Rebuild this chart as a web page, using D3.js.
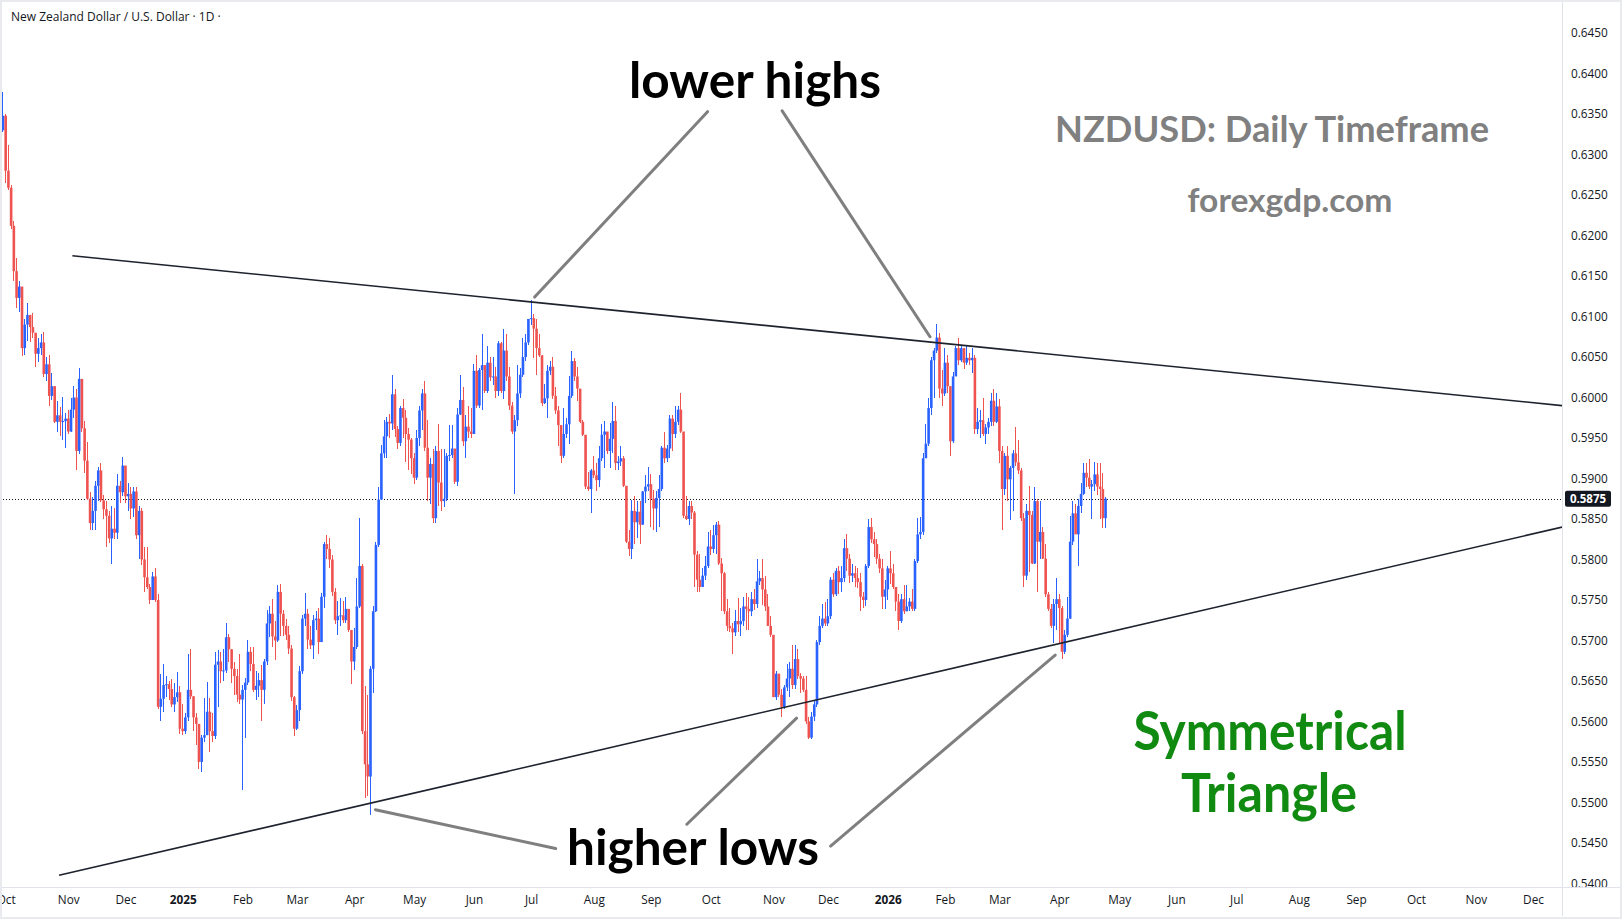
<!DOCTYPE html>
<html>
<head>
<meta charset="utf-8">
<script src="https://cdn.jsdelivr.net/npm/d3@7"></script>
<style>
  html, body { margin: 0; padding: 0; background: #fff; }
  svg { display: block; }
</style>
</head>
<body>
<svg id="chart" width="1622" height="919"></svg>
<script>
// NZDUSD daily candles, Sep 30 2024 -> Apr 24 2026.
// Open of each bar is the previous close (FX feed), first open given below.
const firstOpen = 0.6330;

const closes = [
  // Sep 30 + Oct 2024
  .6348,.6280,.6259,.6212,.6156,.6123,.6137,.6061,.6090,.6102,.6087,.6080,.6054,.6061,.6068,.6029,.6041,.6002,.6014,.5970,.5978,.5970,.5971,.5974,
  // Nov 2024
  .5958,.5985,.6000,.5934,.6023,.5962,.5922,.5875,.5845,.5860,.5891,.5910,.5873,.5862,.5854,.5826,.5838,.5833,.5891,.5883,.5916,
  // Dec 2024
  .5878,.5881,.5863,.5884,.5830,.5860,.5800,.5778,.5766,.5750,.5779,.5750,.5618,.5628,.5645,.5646,.5640,.5621,.5630,.5636,.5591,
  // Jan 2025
  .5588,.5605,.5639,.5631,.5605,.5597,.5550,.5580,.5583,.5612,.5588,.5582,.5670,.5674,.5662,.5663,.5704,.5689,.5665,.5656,.5633,.5627,
  // Feb 2025
  .5639,.5648,.5686,.5671,.5639,.5644,.5651,.5639,.5674,.5721,.5733,.5705,.5700,.5760,.5733,.5718,.5707,.5690,.5630,.5591,
  // Mar 2025
  .5614,.5662,.5727,.5733,.5701,.5694,.5725,.5727,.5698,.5754,.5819,.5813,.5800,.5760,.5725,.5730,.5731,.5725,.5739,.5713,.5674,
  // Apr 2025
  .5692,.5742,.5792,.5588,.5547,.5532,.5665,.5736,.5818,.5874,.5931,.5952,.5970,.5968,.6004,.5961,.5944,.5987,.5975,.5955,.5948,.5925,
  // May 2025
  .5901,.5950,.5984,.6005,.5938,.5901,.5918,.5851,.5934,.5895,.5872,.5875,.5928,.5929,.5937,.5896,.5979,.5997,.5946,.5964,.5958,.5955,
  // Jun 2025
  .6033,.5990,.6034,.6040,.6008,.6043,.6025,.6026,.6008,.6067,.6008,.6058,.6026,.5990,.5958,.5972,.6005,.6028,.6050,.6068,.6097,
  // Jul 2025
  .6098,.6085,.6061,.6052,.5993,.5999,.6033,.6038,.6002,.5984,.5966,.5928,.5955,.5967,.6002,.6045,.6026,.6011,.5970,.5954,.5890,.5887,.5910,
  // Aug 2025
  .5904,.5898,.5925,.5954,.5958,.5934,.5949,.5971,.5919,.5921,.5925,.5891,.5822,.5813,.5860,.5846,.5859,.5843,.5884,.5890,.5893,
  // Sep 2025
  .5875,.5863,.5876,.5887,.5938,.5925,.5937,.5974,.5955,.5970,.5985,.5958,.5854,.5850,.5866,.5858,.5806,.5775,.5766,.5780,.5792,.5816,
  // Oct 2025
  .5813,.5830,.5843,.5795,.5783,.5736,.5718,.5715,.5710,.5724,.5720,.5724,.5742,.5739,.5736,.5751,.5745,.5773,.5777,.5763,.5742,.5718,.5707,
  // Nov 2025
  .5630,.5659,.5633,.5618,.5642,.5653,.5665,.5645,.5677,.5656,.5653,.5639,.5600,.5580,.5606,.5621,.5698,.5718,.5727,.5721,
  // Dec 2025
  .5730,.5775,.5757,.5786,.5772,.5777,.5814,.5801,.5780,.5783,.5777,.5772,.5754,.5750,.5792,.5840,.5825,.5819,.5801,.5789,.5754,.5763,
  // Jan 2026
  .5789,.5783,.5766,.5748,.5724,.5751,.5736,.5742,.5748,.5739,.5798,.5831,.5834,.5925,.5943,.5987,.6046,.6058,.6074,.6011,.6005,
  // Feb 2026
  .6043,.6014,.5946,.6026,.6061,.6046,.6061,.6043,.6049,.6046,.6049,.5961,.5970,.5972,.5955,.5963,.5970,.5996,.5970,.5989,
  // Mar 2026
  .5934,.5887,.5928,.5899,.5913,.5931,.5920,.5910,.5851,.5780,.5860,.5855,.5795,.5872,.5822,.5834,.5801,.5757,.5739,.5718,.5745,.5751,
  // Apr 2026
  .5740,.5686,.5707,.5727,.5822,.5857,.5831,.5866,.5881,.5907,.5901,.5890,.5893,.5905,.5890,.5887,.5851,.5875
];

const highs = [
  .6377,.6350,.6312,.6262,.6218,.6172,.6144,.6137,.6097,.6117,.6102,.6104,.6080,.6073,.6079,.6081,.6050,.6052,.6030,.6014,.5996,.5988,.6001,.5981,
  .5985,.6000,.6014,.6010,.6036,.6022,.5971,.5945,.5883,.5877,.5897,.5914,.5919,.5880,.5872,.5860,.5866,.5864,.5906,.5897,.5927,
  .5907,.5895,.5889,.5890,.5890,.5866,.5863,.5816,.5816,.5770,.5784,.5790,.5757,.5659,.5671,.5656,.5650,.5653,.5647,.5661,.5644,
  .5622,.5611,.5683,.5690,.5631,.5610,.5597,.5583,.5629,.5649,.5629,.5611,.5686,.5688,.5686,.5690,.5721,.5708,.5690,.5674,.5665,.5683,
  .5645,.5654,.5700,.5692,.5692,.5662,.5660,.5670,.5677,.5737,.5742,.5751,.5724,.5768,.5770,.5738,.5726,.5718,.5695,.5632,
  .5620,.5668,.5731,.5758,.5739,.5718,.5731,.5736,.5740,.5758,.5822,.5830,.5826,.5805,.5765,.5749,.5752,.5749,.5754,.5739,.5713,
  .5716,.5777,.5851,.5795,.5644,.5633,.5668,.5742,.5822,.5890,.5941,.5972,.5976,.5980,.6028,.6010,.5965,.5990,.5998,.5985,.5962,.5950,
  .5931,.5960,.5990,.6011,.6021,.5972,.5925,.5936,.5940,.5967,.5937,.5937,.5931,.5966,.5966,.5937,.5987,.6028,.6013,.5979,.5990,.5987,
  .6042,.6052,.6037,.6079,.6040,.6064,.6050,.6050,.6038,.6070,.6068,.6084,.6079,.6038,.5995,.5978,.6040,.6037,.6073,.6079,.6097,
  .6120,.6103,.6097,.6079,.6052,.6017,.6040,.6045,.6050,.6013,.5990,.5954,.5987,.5975,.6026,.6058,.6049,.6038,.6008,.5972,.5954,.5908,.5912,
  .5928,.5919,.5940,.5967,.5971,.5956,.5968,.5995,.5990,.5928,.5940,.5928,.5891,.5836,.5873,.5878,.5872,.5872,.5884,.5904,.5914,
  .5905,.5886,.5884,.5904,.5940,.5958,.5941,.5978,.5978,.5990,.5990,.6006,.5958,.5878,.5872,.5872,.5860,.5810,.5807,.5790,.5804,.5834,
  .5837,.5843,.5846,.5848,.5802,.5784,.5751,.5740,.5722,.5737,.5753,.5740,.5754,.5759,.5754,.5760,.5763,.5801,.5786,.5801,.5780,.5757,.5730,
  .5707,.5662,.5659,.5640,.5645,.5671,.5674,.5695,.5695,.5690,.5660,.5656,.5656,.5606,.5612,.5627,.5700,.5730,.5745,.5748,
  .5751,.5778,.5783,.5790,.5792,.5792,.5825,.5831,.5807,.5795,.5792,.5790,.5783,.5760,.5795,.5850,.5851,.5834,.5825,.5807,.5801,.5775,
  .5792,.5810,.5795,.5766,.5757,.5757,.5769,.5769,.5753,.5763,.5800,.5851,.5852,.5931,.5967,.5999,.6050,.6061,.6091,.6080,.6034,
  .6061,.6052,.6014,.6032,.6064,.6073,.6064,.6052,.6064,.6055,.6061,.6052,.5987,.5985,.6000,.5967,.5975,.6005,.6011,.6005,
  .5998,.5940,.5931,.5940,.5916,.5935,.5963,.5948,.5913,.5857,.5869,.5891,.5860,.5890,.5875,.5872,.5840,.5819,.5760,.5745,.5751,.5777,
  .5757,.5742,.5713,.5754,.5854,.5872,.5869,.5875,.5895,.5919,.5919,.5924,.5898,.5920,.5919,.5919,.5907,.5877
];

const lows = [
  .6328,.6265,.6256,.6208,.6144,.6111,.6106,.6051,.6052,.6070,.6068,.6073,.6038,.6044,.6053,.6025,.6020,.5990,.5997,.5968,.5957,.5952,.5947,.5938,
  .5955,.5958,.5975,.5911,.5930,.5958,.5907,.5874,.5836,.5836,.5836,.5872,.5871,.5850,.5816,.5820,.5795,.5825,.5825,.5870,.5879,
  .5870,.5860,.5850,.5852,.5825,.5800,.5793,.5760,.5763,.5745,.5751,.5747,.5615,.5600,.5612,.5630,.5627,.5618,.5612,.5624,.5585,
  .5583,.5585,.5600,.5628,.5588,.5571,.5541,.5538,.5574,.5600,.5562,.5574,.5578,.5618,.5647,.5650,.5660,.5674,.5647,.5633,.5624,.5622,
  .5515,.5580,.5645,.5662,.5636,.5627,.5630,.5600,.5621,.5670,.5704,.5692,.5676,.5698,.5706,.5705,.5700,.5683,.5625,.5582,
  .5590,.5600,.5659,.5718,.5689,.5690,.5677,.5713,.5683,.5698,.5740,.5801,.5790,.5755,.5720,.5707,.5718,.5722,.5721,.5710,.5646,
  .5663,.5690,.5740,.5585,.5506,.5508,.5484,.5635,.5735,.5815,.5884,.5925,.5925,.5950,.5960,.5951,.5936,.5940,.5950,.5920,.5910,.5905,
  .5893,.5898,.5940,.5960,.5934,.5872,.5869,.5845,.5845,.5866,.5860,.5865,.5872,.5922,.5925,.5893,.5891,.5979,.5940,.5925,.5950,.5950,
  .5955,.5987,.5987,.5984,.6005,.6005,.6020,.6015,.6000,.6002,.6005,.5998,.6020,.5985,.5955,.5881,.5965,.6000,.6025,.6045,.6065,
  .6090,.6049,.6028,.6050,.5990,.5992,.5975,.6028,.5998,.5980,.5940,.5919,.5925,.5950,.5943,.6000,.6020,.5996,.5968,.5952,.5887,.5884,.5857,
  .5900,.5884,.5890,.5922,.5913,.5930,.5913,.5931,.5911,.5911,.5915,.5889,.5820,.5804,.5801,.5819,.5826,.5819,.5843,.5870,.5884,
  .5840,.5836,.5834,.5840,.5884,.5919,.5920,.5925,.5934,.5950,.5966,.5956,.5851,.5849,.5842,.5850,.5766,.5760,.5760,.5766,.5775,.5790,
  .5805,.5808,.5807,.5793,.5736,.5733,.5712,.5711,.5683,.5705,.5710,.5706,.5718,.5713,.5713,.5730,.5738,.5740,.5768,.5744,.5736,.5718,.5704,
  .5630,.5627,.5630,.5606,.5615,.5638,.5630,.5640,.5640,.5653,.5635,.5636,.5597,.5578,.5578,.5600,.5618,.5695,.5715,.5718,
  .5718,.5727,.5754,.5755,.5757,.5760,.5772,.5786,.5771,.5772,.5766,.5765,.5736,.5740,.5742,.5790,.5820,.5803,.5795,.5783,.5739,.5739,
  .5750,.5770,.5763,.5736,.5713,.5721,.5733,.5736,.5736,.5736,.5736,.5796,.5825,.5830,.5925,.5940,.5978,.6000,.6055,.6000,.5990,
  .6002,.6005,.5928,.5944,.6026,.6040,.6044,.6035,.6040,.6040,.6030,.5955,.5955,.5950,.5952,.5943,.5955,.5965,.5965,.5968,
  .5919,.5837,.5880,.5872,.5849,.5860,.5915,.5905,.5848,.5766,.5775,.5784,.5795,.5795,.5760,.5801,.5801,.5754,.5736,.5716,.5697,.5713,
  .5697,.5677,.5683,.5704,.5727,.5818,.5831,.5792,.5857,.5880,.5890,.5887,.5850,.5885,.5880,.5850,.5839,.5839
];

const lastPrice = 0.5875;
const priceTicks = [0.6450,0.6400,0.6350,0.6300,0.6250,0.6200,0.6150,0.6100,0.6050,0.6000,0.5950,
                    0.5900,0.5850,0.5800,0.5750,0.5700,0.5650,0.5600,0.5550,0.5500,0.5450,0.5400];
// one label per calendar month starting Oct 2024
const timeTickLabels = ["Oct","Nov","Dec","2025","Feb","Mar","Apr","May","Jun","Jul","Aug","Sep","Oct","Nov",
                        "Dec","2026","Feb","Mar","Apr","May","Jun","Jul","Aug","Sep","Oct","Nov","Dec"];

// trend lines and pointer lines, endpoints as (bar index, price)
const upperTrend = [[25.5, 0.6175], [572.7, 0.5990]];
const lowerTrend = [[20.6, 0.5410], [572.7, 0.5840]];
const pointers = [
  [[195.3, 0.6124], [258.8, 0.6353]],
  [[286.2, 0.6354], [340.5, 0.6075]],
  [[136.8, 0.5491], [203.0, 0.5443]],
  [[251.2, 0.5473], [291.5, 0.5604]],
  [[304.0, 0.5446], [386.5, 0.5682]]
];

const W = 1622, H = 919;
const plotRight = 1562, plotBottom = 887;
const upColor = "#2962ff", downColor = "#ef5350";
const axisFont = "'Open Sans', sans-serif";
const bigFont = "Lato, 'Open Sans', sans-serif";

const svg = d3.select("#chart");

const x = d3.scaleLinear().domain([0, 562]).range([2.96, 2.96 + 562 * 2.7225]);
const y = d3.scaleLinear().domain([0.54, 0.645]).range([883.4, 33.1]);

// trading calendar (weekdays, no Dec 25 / Jan 1)
const days = [];
for (let d = new Date(Date.UTC(2024, 8, 30)); days.length < 600; d.setUTCDate(d.getUTCDate() + 1)) {
  const wd = d.getUTCDay();
  if (wd === 0 || wd === 6) continue;
  if ((d.getUTCMonth() === 11 && d.getUTCDate() === 25) || (d.getUTCMonth() === 0 && d.getUTCDate() === 1)) continue;
  days.push(new Date(d));
}
const monthStarts = [];
for (let i = 1; i < days.length && monthStarts.length < timeTickLabels.length; i++) {
  if (days[i].getUTCMonth() !== days[i - 1].getUTCMonth()) monthStarts.push(i);
}

const bars = closes.map((c, i) => {
  const o = i ? closes[i - 1] : firstOpen;
  return { i, o, c, h: Math.max(highs[i], o, c), l: Math.min(lows[i], o, c) };
});

svg.append("rect").attr("width", W).attr("height", H).attr("fill", "#fff");

const defs = svg.append("defs");
defs.append("clipPath").attr("id", "plotClip")
  .append("rect").attr("x", 0).attr("y", 0).attr("width", plotRight).attr("height", plotBottom);
defs.append("clipPath").attr("id", "xClip")
  .append("rect").attr("x", 0).attr("y", 0).attr("width", plotRight).attr("height", 30);

const plot = svg.append("g").attr("clip-path", "url(#plotClip)");

// last price dotted line
plot.append("line")
  .attr("x1", 0).attr("x2", plotRight)
  .attr("y1", Math.round(y(lastPrice)) + 0.5).attr("y2", Math.round(y(lastPrice)) + 0.5)
  .attr("stroke", "#131722").attr("stroke-width", 1).attr("stroke-dasharray", "1 2");

// candles
const col = d => d.c >= d.o ? upColor : downColor;
plot.append("g").attr("shape-rendering", "crispEdges")
  .selectAll("rect").data(bars).join("rect")
  .attr("x", d => Math.round(x(d.i) - 0.5))
  .attr("width", 1)
  .attr("y", d => y(d.h))
  .attr("height", d => Math.max(1, y(d.l) - y(d.h)))
  .attr("fill", col);
plot.append("g")
  .selectAll("rect").data(bars).join("rect")
  .attr("x", d => x(d.i) - 1.3)
  .attr("width", 2.6)
  .attr("y", d => y(Math.max(d.o, d.c)))
  .attr("height", d => Math.max(1, Math.abs(y(d.o) - y(d.c))))
  .attr("fill", col);

// triangle lines
const lineGen = d3.line().x(d => x(d[0])).y(d => y(d[1]));
[upperTrend, lowerTrend].forEach(t => {
  plot.append("path").attr("d", lineGen(t))
    .attr("fill", "none").attr("stroke", "#1e222d").attr("stroke-width", 1.6);
});
pointers.forEach(p => {
  plot.append("path").attr("d", lineGen(p))
    .attr("fill", "none").attr("stroke", "#7f7f7f").attr("stroke-width", 3).attr("stroke-linecap", "round");
});

// annotation text; widths pinned to the reference
function label(txt, cx, baseline, size, color, width) {
  const t = svg.append("text")
    .attr("x", cx).attr("y", baseline)
    .attr("text-anchor", "middle")
    .attr("font-family", bigFont).attr("font-weight", 700)
    .attr("font-size", size).attr("fill", color)
    .text(txt);
  if (width) t.attr("textLength", width).attr("lengthAdjust", "spacingAndGlyphs");
  return t;
}
label("lower highs", 755, 98, 49, "#000", 252);
label("higher lows", 693, 865, 49, "#000", 252);
label("NZDUSD: Daily Timeframe", 1272, 142, 37, "#808080", 434);
label("forexgdp.com", 1290, 212, 33, "#808080", 205);
label("Symmetrical", 1270, 750, 53, "#118a11", 273);
label("Triangle", 1269, 812, 53, "#118a11", 176);

// header
svg.append("text").attr("x", 11).attr("y", 21)
  .attr("font-family", axisFont).attr("font-size", 12).attr("fill", "#131722")
  .text("New Zealand Dollar / U.S. Dollar · 1D ·");

// price axis
svg.append("line").attr("x1", plotRight + 0.5).attr("x2", plotRight + 0.5).attr("y1", 0).attr("y2", 916)
  .attr("stroke", "#e0e3eb");
const yAxis = svg.append("g")
  .attr("transform", `translate(${plotRight},0)`)
  .call(d3.axisRight(y).tickValues(priceTicks).tickFormat(d3.format(".4f")).tickSize(0).tickPadding(9));
yAxis.select(".domain").remove();
yAxis.selectAll("text").attr("font-family", axisFont).attr("font-size", 11.8).attr("fill", "#131722");

// time axis
svg.append("line").attr("x1", 0).attr("x2", W).attr("y1", plotBottom + 0.5).attr("y2", plotBottom + 0.5)
  .attr("stroke", "#e0e3eb");
const xAxisG = svg.append("g").attr("clip-path", "url(#xClip)")
  .attr("transform", `translate(0,${plotBottom})`)
  .call(d3.axisBottom(x).tickValues(monthStarts).tickFormat((d, i) => timeTickLabels[i]).tickSize(0).tickPadding(9));
xAxisG.select(".domain").remove();
xAxisG.selectAll("text")
  .attr("font-family", axisFont).attr("font-size", 11.8).attr("fill", "#131722")
  .attr("font-weight", (d, i) => /^\d{4}$/.test(timeTickLabels[i]) ? 700 : 400);

// current price tag
const tagY = y(lastPrice);
svg.append("rect").attr("x", plotRight + 3).attr("y", tagY - 8).attr("width", 46).attr("height", 16)
  .attr("rx", 2).attr("fill", "#131722");
svg.append("text").attr("x", plotRight + 26).attr("y", tagY + 4)
  .attr("text-anchor", "middle")
  .attr("font-family", axisFont).attr("font-size", 11.5).attr("font-weight", 700).attr("fill", "#fff")
  .text(d3.format(".4f")(lastPrice));

// outer frame
svg.append("rect").attr("x", 1).attr("y", 1).attr("width", W - 2).attr("height", H - 2)
  .attr("fill", "none").attr("stroke", "#e9eaee").attr("stroke-width", 2);
</script>
</body>
</html>
